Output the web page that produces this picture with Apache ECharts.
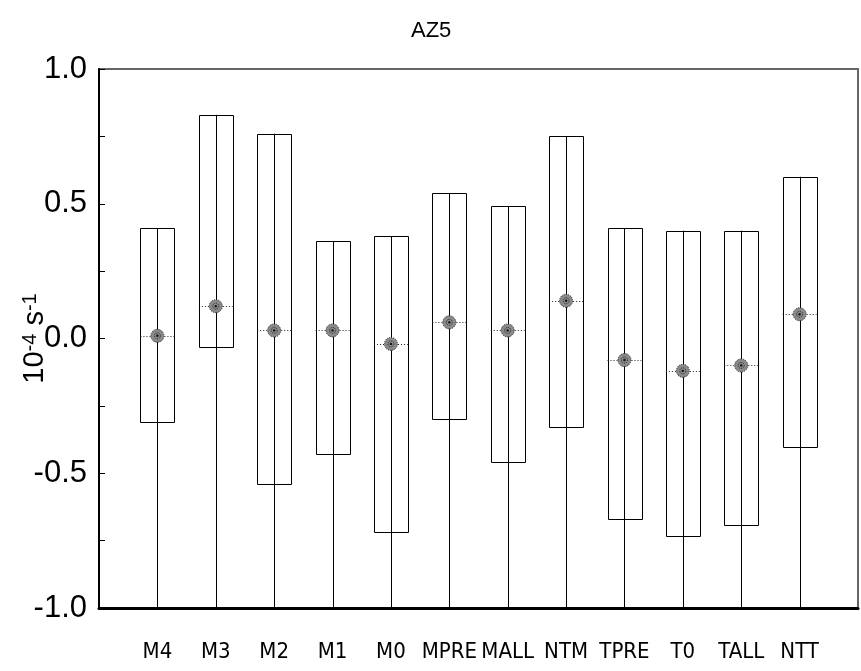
<!DOCTYPE html>
<html>
<head>
<meta charset="utf-8">
<script src="https://cdn.jsdelivr.net/npm/echarts@6/dist/echarts.min.js"></script>
<style>
html,body{margin:0;padding:0;background:#fff;}
#c{width:861px;height:671px;}
</style>
</head>
<body>
<div id="c"></div>
<script>
var categories = ['M4','M3','M2','M1','M0','MPRE','MALL','NTM','TPRE','T0','TALL','NTT'];
var boxTop     = [0.41, 0.83, 0.76, 0.36, 0.38, 0.54, 0.49, 0.75, 0.41, 0.40, 0.40, 0.60];
var boxBottom  = [-0.31,-0.03,-0.54,-0.43,-0.72,-0.30,-0.46,-0.33,-0.67,-0.73,-0.69,-0.40];
var centerVal  = [0.01, 0.12, 0.03, 0.03,-0.02, 0.06, 0.03, 0.14,-0.08,-0.12,-0.10, 0.09];
var lowWhisker = [-1,-1,-1,-1,-1,-1,-1,-1,-1,-1,-1,-1];
var yTicks = [-1.0,-0.5,0.0,0.5,1.0];

var data = categories.map(function(c,i){
  return [i+1, boxTop[i], boxBottom[i], centerVal[i], lowWhisker[i]];
});

var HW = 0.29;
function renderItem(params, api){
  var x = api.value(0);
  var pTL = api.coord([x-HW, api.value(1)]);
  var pBR = api.coord([x+HW, api.value(2)]);
  var pTop = api.coord([x, api.value(1)]);
  var pLow = api.coord([x, api.value(4)]);
  var pC = api.coord([x, api.value(3)]);
  var pCL = api.coord([x-HW, api.value(3)]);
  var pCR = api.coord([x+HW, api.value(3)]);
  return {
    type:'group',
    children:[
      {type:'rect', shape:{x:Math.round(pTL[0])+0.5, y:Math.round(pTL[1])+0.5, width:Math.round(pBR[0]-pTL[0]), height:Math.round(pBR[1]-pTL[1])},
       style:{fill:'none', stroke:'#000', lineWidth:1}},
      {type:'line', shape:{x1:Math.round(pTop[0])+0.5, y1:pTop[1], x2:Math.round(pLow[0])+0.5, y2:pLow[1]},
       style:{stroke:'#000', lineWidth:1}},
      {type:'line', shape:{x1:pCL[0], y1:Math.round(pC[1])+0.5, x2:pCR[0], y2:Math.round(pC[1])+0.5},
       style:{stroke:'#222', lineWidth:1, lineDash:[1,2]}},
      {type:'circle', shape:{cx:pC[0], cy:pC[1], r:6.5},
       style:{fill:'#8a8a8a', stroke:'#222', lineWidth:1, lineDash:[1,1]}},
      {type:'circle', shape:{cx:pC[0], cy:pC[1], r:3},
       style:{fill:'none', stroke:'#222', lineWidth:1, lineDash:[1,1]}},
      {type:'circle', shape:{cx:pC[0], cy:pC[1], r:1.2},
       style:{fill:'#111'}}
    ]
  };
}

var chart = echarts.init(document.getElementById('c'));
chart.setOption({
  animation:false,
  backgroundColor:'#fff',
  title:{text:'AZ5', left:406, top:15, textStyle:{fontFamily:'Liberation Sans, Arial', fontSize:22, fontWeight:'normal', color:'#000'}},
  grid:{left:99, right:3, top:69, bottom:63, outerBoundsMode:'none', containLabel:false, show:true, borderColor:'#666', borderWidth:2, backgroundColor:'transparent'},
  xAxis:{
    type:'value', min:0, max:13, interval:1,
    axisLine:{show:true, onZero:false, lineStyle:{color:'#000', width:3}},
    axisTick:{show:false},
    splitLine:{show:false},
    axisLabel:{
      margin:33, fontSize:22, color:'#000', fontFamily:'DejaVu Sans Condensed, Liberation Sans Narrow, Liberation Sans, Arial',
      showMinLabel:false, showMaxLabel:false,
      formatter:function(v){ var i=Math.round(v)-1; return (i>=0 && i<categories.length)?categories[i]:''; }
    }
  },
  yAxis:{
    type:'value', min:-1, max:1, interval:0.5,
    name:'{a|10}{b|-4}{a| s}{b|-1}', nameLocation:'middle', nameGap:50, nameRotate:90, nameMoveOverlap:false,
    nameTextStyle:{rich:{
      a:{fontSize:29, fontFamily:'Liberation Sans, Arial', color:'#000', verticalAlign:'bottom'},
      b:{fontSize:20, fontFamily:'Liberation Sans, Arial', color:'#000', verticalAlign:'top'}
    }},
    axisLine:{show:true, lineStyle:{color:'#000', width:2}},
    axisTick:{show:true, inside:true, length:6, lineStyle:{color:'#000'}},
    minorTick:{show:true, splitNumber:2, length:6, lineStyle:{color:'#000'}},
    splitLine:{show:false},
    axisLabel:{margin:12, fontSize:31, color:'#000', fontFamily:'Liberation Sans, Arial',
      formatter:function(v){ return v.toFixed(1); }}
  },
  series:[{
    type:'custom',
    renderItem:renderItem,
    data:data,
    encode:{x:0, y:[1,2,3,4]},
    clip:true
  }]
});
</script>
</body>
</html>
